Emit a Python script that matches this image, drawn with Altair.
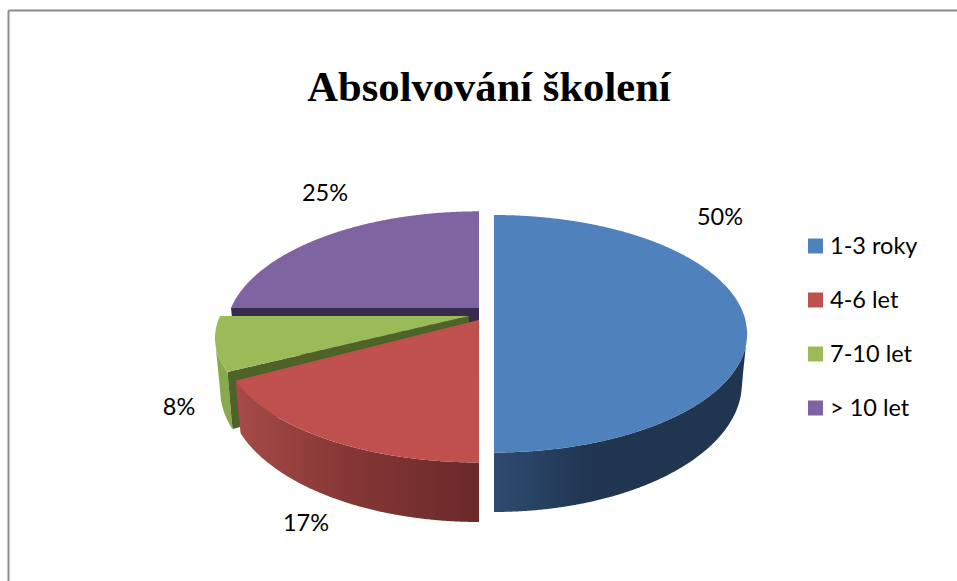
import math
import altair as alt
import numpy as np
import pandas as pd

# Chart content
TITLE = "Absolvování školení"
categories = ["1-3 roky", "4-6 let", "7-10 let", "> 10 let"]
shares = [50, 17, 8, 25]
share_labels = ["50%", "17%", "8%", "25%"]
top_colors = ["#4F81BD", "#C0504D", "#9BBB59", "#8064A2"]
label_x = [720, 306, 179, 325]
label_y = [218, 524, 408, 194]
legend_y = [246, 300, 354, 408]

WIDTH, HEIGHT = 957, 581
P = 0.2            # strength of the perspective
DEPTH = 47         # offset of the lower rim
H_BOTTOM = 124     # vertical radius of the lower rim
B = 0.98           # horizontal shrink of the lower rim

# Exploded slice geometry: apex x, apex y, radius, vertical radius
pie = {
    "1-3 roky": (494, 310, 248, 114),
    "4-6 let": (479, 320, 251, 114),
    "7-10 let": (469, 316, 249, 105),
    "> 10 let": (479, 308, 248, 116),
}

# Slice boundaries, clockwise from twelve o'clock
edges = np.cumsum([0] + shares) * 3.6
bounds = {c: (edges[i], edges[i + 1]) for i, c in enumerate(categories)}
TURN = math.degrees(math.acos(-P))  # angle of the silhouette of the disc


def project(cat, deg, lower=False):
    ax, ay, r, h = pie[cat]
    t = math.radians(deg)
    u, v = math.sin(t), -math.cos(t)
    s = 1 / (1 - P * v)
    if lower:
        return ax + r * B * u * s, ay + DEPTH + H_BOTTOM * v * s
    return ax + r * u * s, ay + h * v * s


def apex(cat, lower=False):
    ax, ay, _, _ = pie[cat]
    return (ax, ay + DEPTH) if lower else (ax, ay)


def arc(cat, a0, a1, lower=False):
    n = max(int(abs(a1 - a0) * 3), 2)
    return [project(cat, a, lower) for a in np.linspace(a0, a1, n)]


def envelope(poly):
    """Turn a polygon into upper and lower bounds sampled along x."""
    xs = [p[0] for p in poly]
    rows = []
    for x in np.arange(min(xs) + 0.01, max(xs), 1.0).tolist() + [max(xs) - 0.01]:
        hits = []
        for (x0, y0), (x1, y1) in zip(poly, poly[1:] + poly[:1]):
            if (x0 - x) * (x1 - x) <= 0 and x0 != x1:
                hits.append(y0 + (x - x0) / (x1 - x0) * (y1 - y0))
        if hits:
            rows.append({"x": x, "y": min(hits), "y2": max(hits)})
    return pd.DataFrame(rows)


x_scale = alt.Scale(domain=[0, WIDTH], range=[0, WIDTH])
y_scale = alt.Scale(domain=[0, HEIGHT], range=[0, HEIGHT])


def patch(poly, fill):
    return alt.Chart(envelope(poly)).mark_area(color=fill, line=False, interpolate="linear").encode(
        x=alt.X("x:Q", scale=x_scale, axis=None),
        y=alt.Y("y:Q", scale=y_scale, axis=None, stack=None),
        y2="y2:Q",
    )


def top_face(cat, fill):
    a0, a1 = bounds[cat]
    return patch([apex(cat)] + arc(cat, a0, a1), fill)


def wall(cat, a0, a1, fill):
    return patch(arc(cat, a0, a1) + arc(cat, a1, a0, lower=True), fill)


def cut(cat, deg, fill):
    return patch(
        [apex(cat), project(cat, deg), project(cat, deg, True), apex(cat, True)], fill
    )


def side_gradient(stops):
    return alt.Gradient(
        gradient="linear", x1=0, x2=1, y1=0, y2=0,
        stops=[alt.GradientStop(offset=o, color=c) for o, c in stops],
    )


blue, red, green, purple = categories
layers = [
    # back slice first, front slices painted over it
    cut(purple, bounds[purple][0], "#372B4E"),
    top_face(purple, top_colors[3]),
    wall(green, bounds[green][0], 360 - TURN, "#89A94F"),
    cut(green, bounds[green][0], "#4F6228"),
    top_face(green, top_colors[2]),
    wall(red, bounds[red][0], bounds[red][1],
         side_gradient([(0, "#A64B48"), (0.45, "#863735"), (1, "#692A29")])),
    top_face(red, top_colors[1]),
    wall(blue, TURN, bounds[blue][1],
         side_gradient([(0, "#2E4B70"), (0.4, "#1F3550"), (1, "#1F3550")])),
    top_face(blue, top_colors[0]),
]

# Frame: left and top edge only
frame = pd.DataFrame({"x": [8.5, WIDTH], "y": [HEIGHT, 10.5], "xc": [8.5, 8.5], "yc": [10.5, 10.5]})
frame_style = dict(color="#8C8C8C", strokeWidth=2)
layers.append(
    alt.Chart(frame.iloc[[0]]).mark_rule(**frame_style).encode(
        x=alt.X("xc:Q", scale=x_scale, axis=None),
        y=alt.Y("yc:Q", scale=y_scale, axis=None),
        y2="y:Q",
    )
)
layers.append(
    alt.Chart(frame.iloc[[1]]).mark_rule(**frame_style).encode(
        x=alt.X("xc:Q", scale=x_scale, axis=None),
        x2="x:Q",
        y=alt.Y("yc:Q", scale=y_scale, axis=None),
    )
)

# Data labels
labels = pd.DataFrame({"t": share_labels, "x": label_x, "y": label_y})
layers.append(
    alt.Chart(labels).mark_text(font="Lato", fontSize=23.5, color="#000000", align="center", baseline="middle").encode(
        x=alt.X("x:Q", scale=x_scale, axis=None),
        y=alt.Y("y:Q", scale=y_scale, axis=None),
        text="t:N",
    )
)

# Legend
legend = pd.DataFrame({"t": categories, "y": legend_y, "c": top_colors, "xs": 815.5, "xt": 830})
layers.append(
    alt.Chart(legend).mark_square(size=225, opacity=1).encode(
        x=alt.X("xs:Q", scale=x_scale, axis=None),
        y=alt.Y("y:Q", scale=y_scale, axis=None),
        color=alt.Color("c:N", scale=None),
    )
)
layers.append(
    alt.Chart(legend).mark_text(font="Lato", fontSize=23.5, dy=1, color="#000000", align="left", baseline="middle").encode(
        x=alt.X("xt:Q", scale=x_scale, axis=None),
        y=alt.Y("y:Q", scale=y_scale, axis=None),
        text="t:N",
    )
)

# Title
title = pd.DataFrame({"t": [TITLE], "x": [489], "y": [87.5]})
layers.append(
    alt.Chart(title).mark_text(font="Liberation Serif", fontSize=42.6, fontWeight="bold", color="#000000", align="center", baseline="middle").encode(
        x=alt.X("x:Q", scale=x_scale, axis=None),
        y=alt.Y("y:Q", scale=y_scale, axis=None),
        text="t:N",
    )
)

chart = (
    alt.layer(*layers)
    .properties(width=WIDTH, height=HEIGHT, padding=0, background="white",
                autosize=alt.AutoSizeParams(type="none"))
    .configure_view(stroke=None)
)
chart.save("out.html", embed_options={"renderer": "svg", "actions": False})
